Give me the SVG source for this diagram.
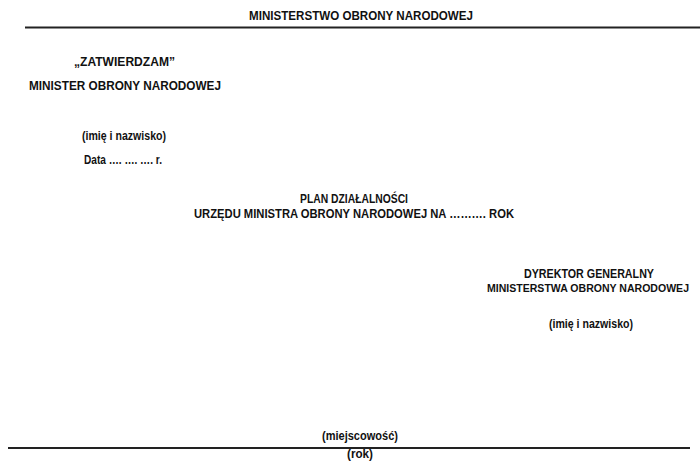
<svg xmlns="http://www.w3.org/2000/svg" width="700" height="465" viewBox="0 0 700 465">
<style>
text{font-family:"Liberation Sans Narrow","Liberation Sans",Arial,sans-serif;font-weight:bold;font-size:12.5px;fill:#111}
.m{text-anchor:middle}
line{stroke:#222;stroke-width:2}
</style>
<rect width="700" height="465" fill="#fff"/>
<text x="361" y="20" class="m" textLength="224" lengthAdjust="spacingAndGlyphs">MINISTERSTWO OBRONY NARODOWEJ</text>
<line x1="25" y1="27.5" x2="700" y2="27.5"/>
<text x="74" y="66" textLength="101" lengthAdjust="spacingAndGlyphs">„ZATWIERDZAM”</text>
<text x="29" y="90" textLength="192" lengthAdjust="spacingAndGlyphs">MINISTER OBRONY NARODOWEJ</text>
<text x="82" y="140" textLength="84" lengthAdjust="spacingAndGlyphs">(imię i nazwisko)</text>
<text x="84" y="164" textLength="78" lengthAdjust="spacingAndGlyphs">Data …. …. …. r.</text>
<text x="354" y="203" class="m" textLength="108" lengthAdjust="spacingAndGlyphs">PLAN DZIAŁALNOŚCI</text>
<text x="354" y="218" class="m" textLength="320" lengthAdjust="spacingAndGlyphs">URZĘDU MINISTRA OBRONY NARODOWEJ NA ………. ROK</text>
<text x="589" y="278" class="m" textLength="130" lengthAdjust="spacingAndGlyphs">DYREKTOR GENERALNY</text>
<text x="588" y="292" class="m" style="font-size:11.5px" textLength="202" lengthAdjust="spacingAndGlyphs">MINISTERSTWA OBRONY NARODOWEJ</text>
<text x="591" y="328" class="m" textLength="84" lengthAdjust="spacingAndGlyphs">(imię i nazwisko)</text>
<text x="360" y="440" class="m" textLength="76" lengthAdjust="spacingAndGlyphs">(miejscowość)</text>
<line x1="8" y1="448" x2="690" y2="448"/>
<text x="360" y="458" class="m" textLength="26" lengthAdjust="spacingAndGlyphs">(rok)</text>
</svg>
